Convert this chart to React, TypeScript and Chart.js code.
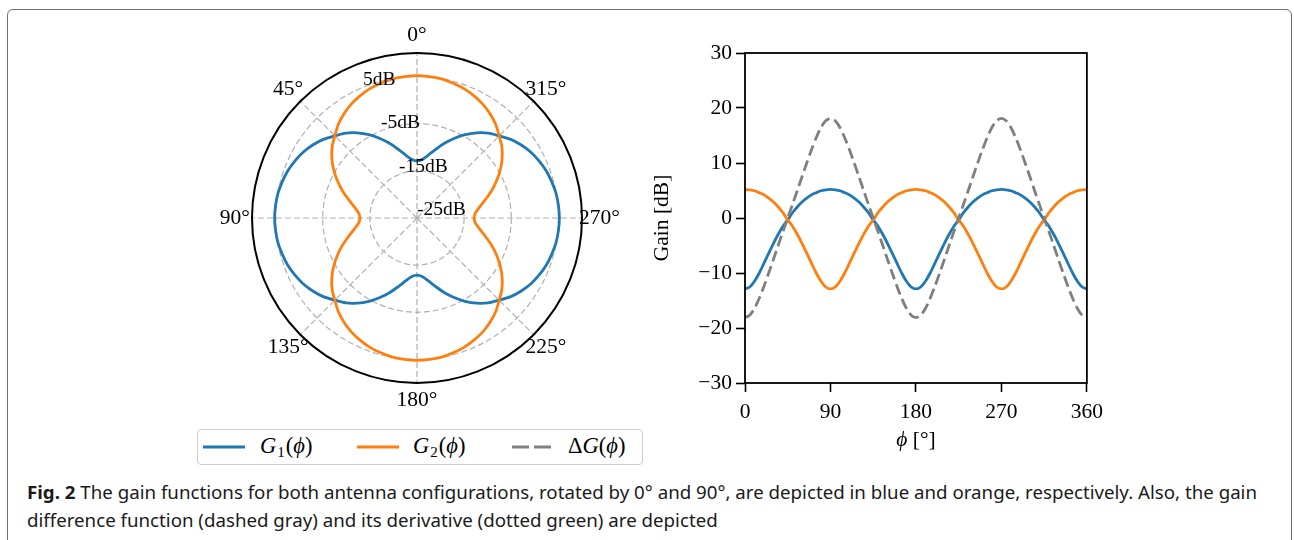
import React, { useEffect, useLayoutEffect, useRef } from 'react';
import { Chart, registerables } from 'chart.js';

Chart.register(...registerables);

// ---------------- data ----------------
const phi = [0, 5, 10, 15, 20, 25, 30, 35, 40, 45, 50, 55, 60, 65, 70, 75, 80, 85, 90, 95, 100, 105, 110, 115, 120, 125, 130, 135, 140, 145, 150, 155, 160, 165, 170, 175, 180, 185, 190, 195, 200, 205, 210, 215, 220, 225, 230, 235, 240, 245, 250, 255, 260, 265, 270, 275, 280, 285, 290, 295, 300, 305, 310, 315, 320, 325, 330, 335, 340, 345, 350, 355, 360];

const gain1 = [-12.9, -12.55, -11.5, -10.0, -8.2, -6.4, -4.6, -2.95, -1.5, -0.35, 0.95, 2.0, 2.9, 3.6, 4.2, 4.6, 4.95, 5.12, 5.2, 5.12, 4.95, 4.6, 4.2, 3.6, 2.9, 2.0, 0.95, -0.35, -1.5, -2.95, -4.6, -6.4, -8.2, -10.0, -11.5, -12.55, -12.9, -12.55, -11.5, -10.0, -8.2, -6.4, -4.6, -2.95, -1.5, -0.35, 0.95, 2.0, 2.9, 3.6, 4.2, 4.6, 4.95, 5.12, 5.2, 5.12, 4.95, 4.6, 4.2, 3.6, 2.9, 2.0, 0.95, -0.35, -1.5, -2.95, -4.6, -6.4, -8.2, -10.0, -11.5, -12.55, -12.9];

const gain2 = [5.2, 5.12, 4.95, 4.6, 4.2, 3.6, 2.9, 2.0, 0.95, -0.35, -1.5, -2.95, -4.6, -6.4, -8.2, -10.0, -11.5, -12.55, -12.9, -12.55, -11.5, -10.0, -8.2, -6.4, -4.6, -2.95, -1.5, -0.35, 0.95, 2.0, 2.9, 3.6, 4.2, 4.6, 4.95, 5.12, 5.2, 5.12, 4.95, 4.6, 4.2, 3.6, 2.9, 2.0, 0.95, -0.35, -1.5, -2.95, -4.6, -6.4, -8.2, -10.0, -11.5, -12.55, -12.9, -12.55, -11.5, -10.0, -8.2, -6.4, -4.6, -2.95, -1.5, -0.35, 0.95, 2.0, 2.9, 3.6, 4.2, 4.6, 4.95, 5.12, 5.2];

const deltaG = [-18.1, -17.67, -16.45, -14.6, -12.4, -10.0, -7.5, -4.95, -2.45, 0, 2.45, 4.95, 7.5, 10.0, 12.4, 14.6, 16.45, 17.67, 18.1, 17.67, 16.45, 14.6, 12.4, 10.0, 7.5, 4.95, 2.45, 0, -2.45, -4.95, -7.5, -10.0, -12.4, -14.6, -16.45, -17.67, -18.1, -17.67, -16.45, -14.6, -12.4, -10.0, -7.5, -4.95, -2.45, 0, 2.45, 4.95, 7.5, 10.0, 12.4, 14.6, 16.45, 17.67, 18.1, 17.67, 16.45, 14.6, 12.4, 10.0, 7.5, 4.95, 2.45, 0, -2.45, -4.95, -7.5, -10.0, -12.4, -14.6, -16.45, -17.67, -18.1];

const xTicks = [0, 90, 180, 270, 360];
const yTicks = [-30, -20, -10, 0, 10, 20, 30];
const yTickLabels = ['\u221230', '\u221220', '\u221210', '0', '10', '20', '30'];

const polarAngles = [0, 45, 90, 135, 180, 225, 270, 315];
const polarAngleLabels = ['0\u00b0', '45\u00b0', '90\u00b0', '135\u00b0', '180\u00b0', '225\u00b0', '270\u00b0', '315\u00b0'];
const radialTicks = [-25, -15, -5, 5];
const radialTickLabels = ['-25dB', '-15dB', '-5dB', '5dB'];
const radialMin = -25;
const radialMax = 10;

// ---------------- style ----------------
const BLUE = '#1f77b4';
const ORANGE = '#ff7f0e';
const GRAY = '#7f7f7f';
const SERIF = '"Liberation Serif", "Times New Roman", serif';
const FONT_PX = 21.5;

Chart.defaults.color = '#000';

const polarDecor = {
  id: 'polarDecor',
  afterDatasetsDraw(chart: any) {
    const s = chart.scales.r;
    const ctx = chart.ctx as CanvasRenderingContext2D;
    const cx = s.xCenter;
    const cy = s.yCenter;
    const R = s.getDistanceFromCenterForValue(radialMax);
    ctx.save();
    ctx.beginPath();
    ctx.arc(cx, cy, R, 0, Math.PI * 2);
    ctx.strokeStyle = '#000';
    ctx.lineWidth = 2;
    ctx.setLineDash([]);
    ctx.stroke();

    ctx.fillStyle = '#000';
    ctx.font = `19.5px ${SERIF}`;
    ctx.textAlign = 'left';
    ctx.textBaseline = 'bottom';
    const a = (22.5 * Math.PI) / 180;
    radialTicks.forEach((v, i) => {
      const r = s.getDistanceFromCenterForValue(v);
      ctx.fillText(radialTickLabels[i], cx - r * Math.sin(a), cy - r * Math.cos(a) + 2);
    });

    ctx.font = `${FONT_PX}px ${SERIF}`;
    ctx.textAlign = 'center';
    ctx.textBaseline = 'middle';
    const d = R * 1.105;
    polarAngles.forEach((deg, i) => {
      const t = (deg * Math.PI) / 180;
      ctx.fillText(polarAngleLabels[i], cx - d * Math.sin(t), cy - d * Math.cos(t));
    });
    ctx.restore();
  },
};

function PolarChart() {
  const ref = useRef<HTMLCanvasElement>(null);
  useEffect(() => {
    const labels = phi.slice(0, 72).map(String);
    const toRadar = (arr: number[]) => labels.map((_, i) => arr[(72 - i) % 72]);
    const chart = new Chart(ref.current as HTMLCanvasElement, {
      type: 'radar',
      data: {
        labels,
        datasets: [
          { label: 'G1', data: toRadar(gain1), borderColor: BLUE, borderWidth: 2.8, pointRadius: 0, fill: false, tension: 0.3, order: 1 } as any,
          { label: 'G2', data: toRadar(gain2), borderColor: ORANGE, borderWidth: 2.8, pointRadius: 0, fill: false, tension: 0.3, order: 0 } as any,
        ],
      },
      options: {
        animation: false,
        responsive: false,
        maintainAspectRatio: false,
        layout: { padding: { left: 52, right: 52, top: 35, bottom: 35 } },
        plugins: { legend: { display: false }, tooltip: { enabled: false } },
        scales: {
          r: {
            min: radialMin,
            max: radialMax,
            afterBuildTicks: (sc: any) => {
              sc.ticks = radialTicks.map((v) => ({ value: v }));
            },
            ticks: { display: false },
            pointLabels: { display: false },
            grid: { circular: true, color: '#b0b0b0', lineWidth: 1.2 },
            border: { dash: [6, 3] },
            angleLines: {
              display: true,
              color: '#b0b0b0',
              lineWidth: (c: any) => (c.index % 9 === 0 ? 1.2 : 0),
              borderDash: [6, 3],
            },
          } as any,
        },
      },
      plugins: [polarDecor],
    });
    return () => chart.destroy();
  }, []);
  return (
    <canvas
      ref={ref}
      width={434}
      height={400}
      style={{ position: 'absolute', left: 200, top: 18, width: 434, height: 400 }}
    />
  );
}

const framePlugin = {
  id: 'frame',
  afterDraw(chart: any) {
    const ctx = chart.ctx as CanvasRenderingContext2D;
    const a = chart.chartArea;
    ctx.save();
    ctx.strokeStyle = '#000';
    ctx.lineWidth = 1.8;
    ctx.setLineDash([]);
    ctx.strokeRect(a.left, a.top, a.right - a.left, a.bottom - a.top);

    const x = (a.left + a.right) / 2;
    const y = a.bottom + 57;
    const t1 = '\u03d5';
    const t2 = ' [\u00b0]';
    ctx.fillStyle = '#000';
    ctx.textBaseline = 'middle';
    ctx.textAlign = 'left';
    ctx.font = `italic ${FONT_PX}px ${SERIF}`;
    const w1 = ctx.measureText(t1).width;
    ctx.font = `${FONT_PX}px ${SERIF}`;
    const w2 = ctx.measureText(t2).width;
    const start = x - (w1 + w2) / 2;
    ctx.font = `italic ${FONT_PX}px ${SERIF}`;
    ctx.fillText(t1, start, y);
    ctx.font = `${FONT_PX}px ${SERIF}`;
    ctx.fillText(t2, start + w1, y);
    ctx.restore();
  },
};

function LineChart() {
  const ref = useRef<HTMLCanvasElement>(null);
  useEffect(() => {
    const pts = (arr: number[]) => phi.map((x, i) => ({ x, y: arr[i] }));
    const tickFont = { family: SERIF, size: FONT_PX };
    const chart = new Chart(ref.current as HTMLCanvasElement, {
      type: 'line',
      data: {
        datasets: [
          { label: 'G1', data: pts(gain1), borderColor: BLUE, borderWidth: 2.8, pointRadius: 0, tension: 0.3, order: 2 },
          { label: 'G2', data: pts(gain2), borderColor: ORANGE, borderWidth: 2.8, pointRadius: 0, tension: 0.3, order: 1 },
          { label: 'dG', data: pts(deltaG), borderColor: GRAY, borderWidth: 2.8, borderDash: [11, 5], pointRadius: 0, tension: 0.3, order: 0 },
        ],
      },
      options: {
        animation: false,
        responsive: false,
        maintainAspectRatio: false,
        layout: { padding: { left: 0, top: 23, right: 23, bottom: 0 } },
        plugins: { legend: { display: false }, tooltip: { enabled: false } },
        scales: {
          x: {
            type: 'linear',
            min: 0,
            max: 360,
            afterBuildTicks: (sc: any) => {
              sc.ticks = xTicks.map((v) => ({ value: v }));
            },
            afterFit: (sc: any) => {
              sc.height = 87;
            },
            grid: { drawOnChartArea: false, drawTicks: true, tickLength: 9, tickColor: '#000', tickWidth: 1.6 },
            border: { display: false },
            ticks: { color: '#000', font: tickFont, padding: 7, maxRotation: 0, autoSkip: false },
          },
          y: {
            type: 'linear',
            min: -30,
            max: 30,
            afterBuildTicks: (sc: any) => {
              sc.ticks = yTicks.map((v) => ({ value: v }));
            },
            afterFit: (sc: any) => {
              sc.width = 105;
            },
            grid: { drawOnChartArea: false, drawTicks: true, tickLength: 9, tickColor: '#000', tickWidth: 1.6 },
            border: { display: false },
            ticks: {
              color: '#000',
              font: tickFont,
              padding: 4,
              autoSkip: false,
              callback: (v: any) => {
                const i = yTicks.indexOf(Number(v));
                return i >= 0 ? yTickLabels[i] : '';
              },
            },
            title: { display: true, text: 'Gain [dB]', color: '#000', font: tickFont, padding: { top: 9, bottom: 0 } },
          },
        },
      },
      plugins: [framePlugin],
    });
    return () => chart.destroy();
  }, []);
  return (
    <canvas
      ref={ref}
      width={470}
      height={440}
      style={{ position: 'absolute', left: 640, top: 30, width: 470, height: 440 }}
    />
  );
}

function Legend() {
  const text: React.CSSProperties = {
    position: 'absolute',
    top: 3,
    fontFamily: SERIF,
    fontSize: 22.5,
    lineHeight: '26px',
    color: '#000',
    whiteSpace: 'nowrap',
  };
  const sub: React.CSSProperties = { fontSize: 15, position: 'relative', top: 4, marginLeft: 1, marginRight: 1 };
  return (
    <div
      style={{
        position: 'absolute',
        left: 197,
        top: 429,
        width: 446,
        height: 36,
        boxSizing: 'border-box',
        border: '1.3px solid #cccccc',
        borderRadius: 4,
        background: '#fff',
      }}
    >
      <svg width={446} height={36} style={{ position: 'absolute', left: -1, top: -1 }}>
        <line x1={6} x2={48} y1={18} y2={18} stroke={BLUE} strokeWidth={2.8} />
        <line x1={160} x2={202} y1={18} y2={18} stroke={ORANGE} strokeWidth={2.8} />
        <line x1={315} x2={354} y1={18} y2={18} stroke={GRAY} strokeWidth={2.8} strokeDasharray="17 5" />
      </svg>
      <span style={{ ...text, left: 62 }}>
        <i>G</i>
        <span style={sub}>1</span>(<i>{'\u03d5'}</i>)
      </span>
      <span style={{ ...text, left: 215 }}>
        <i>G</i>
        <span style={sub}>2</span>(<i>{'\u03d5'}</i>)
      </span>
      <span style={{ ...text, left: 370 }}>
        {'\u0394'}
        <i>G</i>(<i>{'\u03d5'}</i>)
      </span>
    </div>
  );
}

function Caption() {
  const l1 = useRef<HTMLSpanElement>(null);
  const l2 = useRef<HTMLSpanElement>(null);
  useLayoutEffect(() => {
    if (!l1.current || !l2.current) return;
    const w = l1.current.getBoundingClientRect().width;
    const s = 1230 / w;
    l1.current.style.transform = `scaleX(${s})`;
    l2.current.style.transform = `scaleX(${s})`;
  }, []);
  const line: React.CSSProperties = {
    position: 'absolute',
    left: 27,
    display: 'inline-block',
    whiteSpace: 'nowrap',
    fontFamily: '"Noto Sans", "Open Sans", sans-serif',
    fontSize: 18.5,
    lineHeight: '24px',
    color: '#1a1a1a',
    transformOrigin: 'left center',
  };
  return (
    <>
      <span ref={l1} style={{ ...line, top: 480 }}>
        <b>Fig. 2</b> The gain functions for both antenna configurations, rotated by 0° and 90°, are depicted in blue and orange, respectively. Also, the gain
      </span>
      <span ref={l2} style={{ ...line, top: 508 }}>
        difference function (dashed gray) and its derivative (dotted green) are depicted
      </span>
    </>
  );
}

export default function App() {
  return (
    <div style={{ position: 'absolute', left: 0, top: 0, width: 1294, height: 540, overflow: 'hidden', background: '#fff' }}>
      <div
        style={{
          position: 'absolute',
          left: 7,
          top: 9,
          width: 1285,
          height: 600,
          boxSizing: 'border-box',
          border: '1.5px solid #707070',
          borderRadius: 6,
        }}
      />
      <PolarChart />
      <LineChart />
      <Legend />
      <Caption />
    </div>
  );
}
